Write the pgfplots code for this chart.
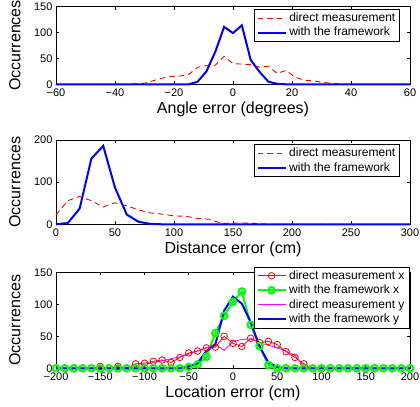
\documentclass[border=0pt]{standalone}
\usepackage{fontspec}
\setmainfont{Liberation Sans}
\usepackage{pgfplots}
\pgfplotsset{compat=1.18}
\definecolor{mred}{rgb}{1,0,0}
\definecolor{mblue}{rgb}{0,0,1}
\definecolor{mgreen}{rgb}{0,1,0}
\definecolor{mmag}{rgb}{1,0,1}
\pgfplotsset{
  matstyle/.style={
    scale only axis, width=354bp, clip=false,
    axis on top=false,
    tick align=inside, major tick length=3bp,
    xtick pos=both, ytick pos=both,
    xticklabel pos=lower, yticklabel pos=left,
    axis line style={line width=0.6bp},
    every tick/.style={black, line width=0.6bp},
    tick label style={font=\fontsize{11bp}{13bp}\selectfont},
    xticklabel style={yshift=-1bp},
    /pgf/number format/assume math mode=true,
    label style={font=\fontsize{16bp}{19bp}\selectfont},
    xlabel style={at={(axis description cs:0.5,0)}, anchor=base, yshift=-29.5bp},
    ylabel style={at={(axis description cs:-0.0904,0.5)}, anchor=south, rotate=0},
    ymin=0,
    legend cell align=left,
    legend style={draw, line width=0.6bp, fill=white,
      font=\fontsize{12bp}{14bp}\selectfont, anchor=north east,
      inner xsep=2bp, inner ysep=1.5bp,
      nodes={inner xsep=2.5bp, inner ysep=0.5bp, text height=10bp, text depth=3.5bp}},
    legend image code/.code={\draw[mark repeat=2,mark phase=2,##1] plot coordinates {(0bp,0bp) (14bp,0bp) (28bp,0bp)};},
  },
  dmeas/.style={color=mred, draw=mred, line width=0.9bp, dash pattern=on 5.5bp off 4bp, no marks},
  fw/.style={color=mblue, draw=mblue, line width=2bp, no marks},
}
\begin{document}
\begin{tikzpicture}
\path[use as bounding box] (0,0) rectangle (420bp,-407bp);
% ---------------- Angle error ----------------
\begin{axis}[matstyle, at={(56bp,-6.7bp)}, anchor=north west, height=77.6bp,
  xmin=-60, xmax=60, ymax=150,
  xtick={-60,-40,-20,0,20,40,60}, xticklabels={−60,−40,−20,0,20,40,60},
  ytick={0,50,100,150},
  xlabel={Angle error (degrees)}, ylabel={Occurrences},
  legend style={at={(0.972,0.97)}}]
\addplot[dmeas] coordinates {
(-60,0) (-57,0) (-54,0) (-51,0) (-48,0) (-45,0) (-42,0) (-39,0) (-36,0) (-33,1)
(-30,2) (-27,7) (-24,12) (-21,15) (-18,16) (-15,19) (-12,33) (-9,36) (-6,37) (-3,54)
(0,40) (3,39) (6,38) (9,33) (12,35) (15,21) (18,27) (21,14) (24,8) (27,7)
(30,4) (33,2) (36,1) (39,0) (42,0) (45,0) (48,0) (51,0) (54,0) (57,0) (60,0)};
\addlegendentry{direct measurement}
\addplot[fw] coordinates {
(-60,0) (-57,0) (-54,0) (-51,0) (-48,0) (-45,0) (-42,0) (-39,0) (-36,0) (-33,0)
(-30,0) (-27,0) (-24,0) (-21,0) (-18,0) (-15,0) (-12,5) (-9,25) (-6,63) (-3,111)
(0,99) (3,114) (6,47) (9,24) (12,5) (15,1) (18,0) (21,0) (24,0) (27,0)
(30,0) (33,0) (36,0) (39,0) (42,0) (45,0) (48,0) (51,0) (54,0) (57,0) (60,0)};
\addlegendentry{with the framework}
\end{axis}
% ---------------- Distance error ----------------
\begin{axis}[matstyle, at={(56bp,-140bp)}, anchor=north west, height=84.3bp,
  xmin=0, xmax=300, ymax=200,
  xtick={0,50,100,150,200,250,300},
  ytick={0,100,200},
  xlabel={Distance error (cm)}, ylabel={Occurrences},
  legend style={at={(0.972,0.949)}}]
\addplot[dmeas] coordinates {
(0,22) (10,56) (20,66) (30,56) (40,41) (50,51) (60,44) (70,34) (80,27) (90,24)
(100,20) (110,19) (120,14) (130,12) (140,2) (150,3) (160,3) (170,2) (180,0) (190,0)
(200,0) (210,0) (220,0) (230,0) (240,0) (250,0) (260,0) (270,0) (280,0) (290,0) (300,0)};
\addlegendentry{direct measurement}
\addplot[fw] coordinates {
(0,0) (10,3) (20,37) (30,156) (40,186) (50,87) (60,23) (70,6) (80,1) (90,0)
(100,0) (110,0) (120,0) (130,0) (140,0) (150,0) (160,0) (170,0) (180,0) (190,0)
(200,0) (210,0) (220,0) (230,0) (240,0) (250,0) (260,0) (270,0) (280,0) (290,0) (300,0)};
\addlegendentry{with the framework}
\end{axis}
% ---------------- Location error ----------------
\begin{axis}[matstyle, at={(56bp,-272.3bp)}, anchor=north west, height=96bp,
  xmin=-200, xmax=200, ymax=150,
  xtick={-200,-150,-100,-50,0,50,100,150,200},
  xticklabels={−200,−150,−100,−50,0,50,100,150,200},
  ytick={0,50,100,150},
  xlabel={Location error (cm)}, ylabel={Occurrences},
  legend style={at={(0.998,1.058)}}]
\addplot[color=mred, draw=mred, line width=0.8bp, mark=o, mark size=3.3bp, mark options={solid}] coordinates {
(-200,0) (-190,0) (-180,0) (-170,0) (-160,0) (-150,3) (-140,0) (-130,3) (-120,0) (-110,7)
(-100,8) (-90,11) (-80,13) (-70,9) (-60,17) (-50,24) (-40,27) (-30,32) (-20,33) (-10,50)
(0,39) (10,34) (20,47) (30,40) (40,42) (50,37) (60,26) (70,17) (80,7) (90,0)
(100,0) (110,0) (120,0) (130,0) (140,0) (150,0) (160,0) (170,0) (180,0) (190,0) (200,0)};
\addlegendentry{direct measurement x}
\addplot[color=mgreen, draw=mgreen, line width=2bp, mark=o, mark size=3.3bp, mark options={solid}] coordinates {
(-200,0) (-190,0) (-180,0) (-170,0) (-160,0) (-150,0) (-140,0) (-130,0) (-120,0) (-110,0)
(-100,0) (-90,0) (-80,0) (-70,0) (-60,0) (-50,2) (-40,6) (-30,18) (-20,55) (-10,82)
(0,104) (10,120) (20,68) (30,35) (40,5) (50,0) (60,0) (70,0) (80,0) (90,0)
(100,0) (110,0) (120,0) (130,0) (140,0) (150,0) (160,0) (170,0) (180,0) (190,0) (200,0)};
\addlegendentry{with the framework x}
\addplot[color=mmag, draw=mmag, line width=0.8bp, no marks] coordinates {
(-200,0) (-190,0) (-180,0) (-170,0) (-160,0) (-150,0) (-140,0) (-130,1) (-120,2) (-110,4)
(-100,6) (-90,9) (-80,12) (-70,15) (-60,18) (-50,22) (-40,27) (-30,32) (-20,38) (-10,28)
(0,42) (10,45) (20,46) (30,40) (40,36) (50,32) (60,27) (70,20) (80,4) (90,0)
(100,0) (110,0) (120,0) (130,0) (140,0) (150,0) (160,0) (170,0) (180,0) (190,0) (200,0)};
\addlegendentry{direct measurement y}
\addplot[fw] coordinates {
(-200,0) (-190,0) (-180,0) (-170,0) (-160,0) (-150,0) (-140,0) (-130,0) (-120,0) (-110,0)
(-100,0) (-90,0) (-80,0) (-70,0) (-60,0) (-50,3) (-40,8) (-30,27) (-20,37) (-10,90)
(0,112) (10,101) (20,72) (30,34) (40,9) (50,2) (60,0) (70,0) (80,0) (90,0)
(100,0) (110,0) (120,0) (130,0) (140,0) (150,0) (160,0) (170,0) (180,0) (190,0) (200,0)};
\addlegendentry{with the framework y}
\end{axis}
\end{tikzpicture}
\end{document}
